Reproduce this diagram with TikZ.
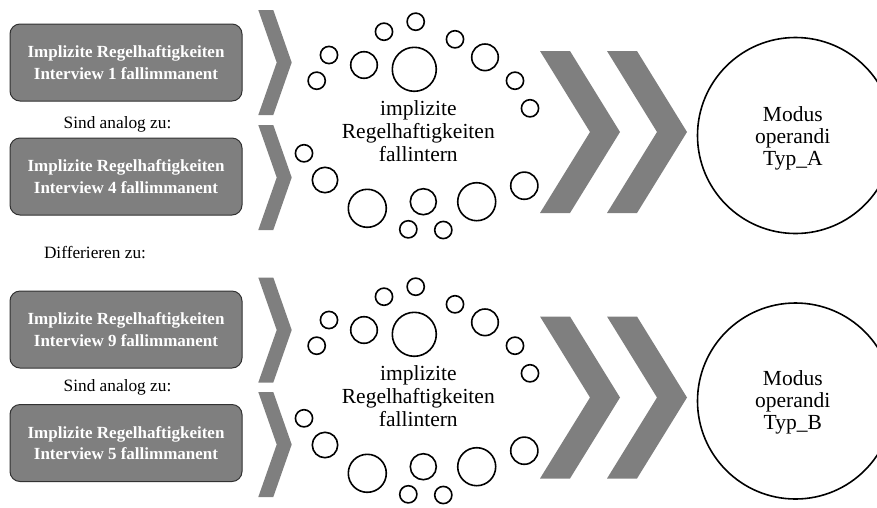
\documentclass[tikz,border=0pt]{standalone}
\usepackage{fontspec}
\setmainfont{Liberation Serif}
\definecolor{chevgray}{RGB}{127,127,127}
\definecolor{boxedge}{RGB}{50,50,50}
\begin{document}
\begin{tikzpicture}[x=1pt,y=-1pt,
  box/.style={draw=boxedge, line width=1pt, fill=chevgray, rounded corners=10pt,
    minimum width=232pt, minimum height=77pt, inner sep=0pt, text=white,
    align=center, font=\fontsize{17}{21.7}\selectfont\bfseries},
  note/.style={anchor=base, inner sep=0pt, font=\fontsize{17.3}{20}\selectfont},
  core/.style={align=center, inner sep=0pt, font=\fontsize{21.5}{23}\selectfont},
  result/.style={draw, line width=1.6pt, circle, minimum size=196pt, inner sep=0pt},
  restext/.style={align=center, inner sep=0pt, font=\fontsize{21.5}{22}\selectfont},
  bubble/.style={line width=1.6pt},
  smallchev/.pic={\fill[chevgray] (0,0)--(15,0)--(33.4,52.5)--(15,105)--(0,105)--(18.4,52.5)--cycle;},
  bigchev/.pic={\fill[chevgray] (0,0)--(30,0)--(80,81)--(30,162)--(0,162)--(50,81)--cycle;}
]
\useasboundingbox (0,0) rectangle (877,507);

% left column: case boxes and their relations
\node[box] (b1) at (126,62.5) {Implizite Regelhaftigkeiten\\Interview 1 fallimmanent};
\node[box] (b4) at (126,176.5) {Implizite Regelhaftigkeiten\\Interview 4 fallimmanent};
\node[box] (b9) at (126,329.5) {Implizite Regelhaftigkeiten\\Interview 9 fallimmanent};
\node[box] (b5) at (126,443) {Implizite Regelhaftigkeiten\\Interview 5 fallimmanent};
\node[note] (n1) at (117.5,128) {Sind analog zu:};
\node[note] (n2) at (95,258.7) {Differieren zu:};
\node[note] (n3) at (117.5,391) {Sind analog zu:};

% small chevrons next to the boxes
\pic at (258.3,10) {smallchev};
\pic at (258.3,125) {smallchev};
\pic at (258.3,277.5) {smallchev};
\pic at (258.3,392) {smallchev};

% bubble clusters around the central text (upper and lower group)
\foreach \dy in {0,265}{
  \foreach \cx/\cy/\r in {415.7/21.7/8.6, 384/31.7/8.6, 329/55/8.6, 316.7/80.7/8.6,
      364/65/13.3, 414.3/69.3/22, 455/39.3/8.6, 485/57.3/13.3, 515/80.7/8.6,
      530/108.3/8.6, 304/153.3/8.6, 325/180/12.7, 367.3/208.3/19, 423.3/201.7/13,
      476.7/201.7/19, 524.3/185.7/13.6, 408.3/229.3/8.6, 443.3/230/8.6}
    \draw[bubble] (\cx,\cy+\dy) circle[radius=\r];
}
\node[core] (c1) at (418.3,131) {implizite\\Regelhaftigkeiten\\fallintern};
\node[core] (c2) at (418.3,396) {implizite\\Regelhaftigkeiten\\fallintern};

% large chevrons
\pic at (540,51) {bigchev};
\pic at (607,51) {bigchev};
\pic at (540,316.5) {bigchev};
\pic at (607,316.5) {bigchev};

% result circles
\node[result] (ra) at (795.5,135.5) {};
\node[result] (rb) at (795.5,401) {};
\node[restext] (ta) at (792.8,138.5) {Modus\\operandi\\Typ\_A};
\node[restext] (tb) at (792.8,402) {Modus\\operandi\\Typ\_B};
\end{tikzpicture}
\end{document}
